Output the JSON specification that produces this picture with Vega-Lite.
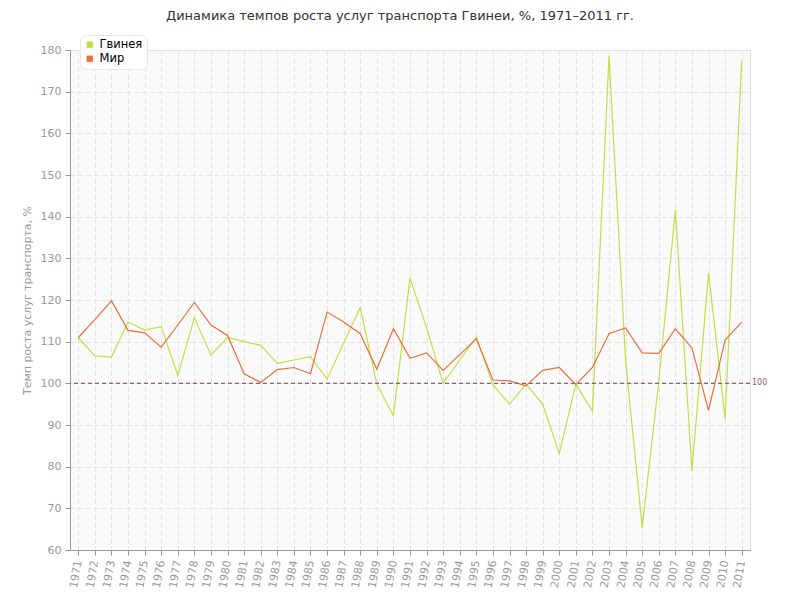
{
  "$schema": "https://vega.github.io/schema/vega-lite/v6.json",
  "width": 680,
  "height": 500,
  "autosize": {"type": "none"},
  "padding": {"left": 70, "top": 50, "right": 50, "bottom": 50},
  "background": "white",
  "title": {"text": "Динамика темпов роста услуг транспорта Гвинеи, %, 1971–2011 гг.", "anchor": "middle", "frame": "group", "dx": -10, "offset": 12, "fontSize": 13, "font": "DejaVu Sans", "fontWeight": "normal", "color": "#333"},
  "config": {"view": {"fill": "#fafafa", "stroke": "#dddddd"}, "font": "DejaVu Sans"},
  "datasets": {
    "series": [
      {"year": 1971, "series": "Гвинея", "value": 111},
      {"year": 1972, "series": "Гвинея", "value": 106.6},
      {"year": 1973, "series": "Гвинея", "value": 106.3},
      {"year": 1974, "series": "Гвинея", "value": 114.7},
      {"year": 1975, "series": "Гвинея", "value": 112.8},
      {"year": 1976, "series": "Гвинея", "value": 113.6},
      {"year": 1977, "series": "Гвинея", "value": 101.9},
      {"year": 1978, "series": "Гвинея", "value": 115.7},
      {"year": 1979, "series": "Гвинея", "value": 106.8},
      {"year": 1980, "series": "Гвинея", "value": 111},
      {"year": 1981, "series": "Гвинея", "value": 110},
      {"year": 1982, "series": "Гвинея", "value": 109.1},
      {"year": 1983, "series": "Гвинея", "value": 104.8},
      {"year": 1984, "series": "Гвинея", "value": 105.6},
      {"year": 1985, "series": "Гвинея", "value": 106.4},
      {"year": 1986, "series": "Гвинея", "value": 101},
      {"year": 1987, "series": "Гвинея", "value": 109.7},
      {"year": 1988, "series": "Гвинея", "value": 118.2},
      {"year": 1989, "series": "Гвинея", "value": 99.8},
      {"year": 1990, "series": "Гвинея", "value": 92.2},
      {"year": 1991, "series": "Гвинея", "value": 125.3},
      {"year": 1992, "series": "Гвинея", "value": 113.3},
      {"year": 1993, "series": "Гвинея", "value": 100},
      {"year": 1994, "series": "Гвинея", "value": 105.6},
      {"year": 1995, "series": "Гвинея", "value": 111.1},
      {"year": 1996, "series": "Гвинея", "value": 99.6},
      {"year": 1997, "series": "Гвинея", "value": 95},
      {"year": 1998, "series": "Гвинея", "value": 99.8},
      {"year": 1999, "series": "Гвинея", "value": 95},
      {"year": 2000, "series": "Гвинея", "value": 83.2},
      {"year": 2001, "series": "Гвинея", "value": 99.8},
      {"year": 2002, "series": "Гвинея", "value": 93.3},
      {"year": 2003, "series": "Гвинея", "value": 178.6},
      {"year": 2004, "series": "Гвинея", "value": 105.4},
      {"year": 2005, "series": "Гвинея", "value": 65.4},
      {"year": 2006, "series": "Гвинея", "value": 100.5},
      {"year": 2007, "series": "Гвинея", "value": 141.6},
      {"year": 2008, "series": "Гвинея", "value": 79},
      {"year": 2009, "series": "Гвинея", "value": 126.5},
      {"year": 2010, "series": "Гвинея", "value": 91.5},
      {"year": 2011, "series": "Гвинея", "value": 177.5},
      {"year": 1971, "series": "Мир", "value": 111},
      {"year": 1972, "series": "Мир", "value": 115.3},
      {"year": 1973, "series": "Мир", "value": 119.8},
      {"year": 1974, "series": "Мир", "value": 112.7},
      {"year": 1975, "series": "Мир", "value": 112.1},
      {"year": 1976, "series": "Мир", "value": 108.7},
      {"year": 1977, "series": "Мир", "value": 114},
      {"year": 1978, "series": "Мир", "value": 119.4},
      {"year": 1979, "series": "Мир", "value": 114},
      {"year": 1980, "series": "Мир", "value": 111.5},
      {"year": 1981, "series": "Мир", "value": 102.3},
      {"year": 1982, "series": "Мир", "value": 100.2},
      {"year": 1983, "series": "Мир", "value": 103.3},
      {"year": 1984, "series": "Мир", "value": 103.8},
      {"year": 1985, "series": "Мир", "value": 102.3},
      {"year": 1986, "series": "Мир", "value": 117.1},
      {"year": 1987, "series": "Мир", "value": 114.7},
      {"year": 1988, "series": "Мир", "value": 111.9},
      {"year": 1989, "series": "Мир", "value": 103.4},
      {"year": 1990, "series": "Мир", "value": 113.1},
      {"year": 1991, "series": "Мир", "value": 106},
      {"year": 1992, "series": "Мир", "value": 107.3},
      {"year": 1993, "series": "Мир", "value": 103.1},
      {"year": 1994, "series": "Мир", "value": 106.9},
      {"year": 1995, "series": "Мир", "value": 110.7},
      {"year": 1996, "series": "Мир", "value": 100.8},
      {"year": 1997, "series": "Мир", "value": 100.6},
      {"year": 1998, "series": "Мир", "value": 99.4},
      {"year": 1999, "series": "Мир", "value": 103.1},
      {"year": 2000, "series": "Мир", "value": 103.8},
      {"year": 2001, "series": "Мир", "value": 99.7},
      {"year": 2002, "series": "Мир", "value": 103.8},
      {"year": 2003, "series": "Мир", "value": 111.9},
      {"year": 2004, "series": "Мир", "value": 113.3},
      {"year": 2005, "series": "Мир", "value": 107.3},
      {"year": 2006, "series": "Мир", "value": 107.2},
      {"year": 2007, "series": "Мир", "value": 113.1},
      {"year": 2008, "series": "Мир", "value": 108.5},
      {"year": 2009, "series": "Мир", "value": 93.5},
      {"year": 2010, "series": "Мир", "value": 110.4},
      {"year": 2011, "series": "Мир", "value": 114.7}
    ],
    "ref": [{"year": 2011.5, "value": 100, "label": "100"}]
  },
  "layer": [
    {
      "data": {"name": "series"},
      "mark": {"type": "line", "strokeWidth": 1.2},
      "encoding": {
        "x": {
          "field": "year", "type": "quantitative",
          "scale": {"domain": [1970.5, 2011.5], "nice": false, "zero": false},
          "axis": {
            "values": [1971,1972,1973,1974,1975,1976,1977,1978,1979,1980,1981,1982,1983,1984,1985,1986,1987,1988,1989,1990,1991,1992,1993,1994,1995,1996,1997,1998,1999,2000,2001,2002,2003,2004,2005,2006,2007,2008,2009,2010,2011],
            "tickCount": 60,
            "format": "d", "title": null,
            "labelAngle": -80, "labelAlign": "right", "labelBaseline": "middle",
            "labelFontSize": 11, "labelColor": "#999999", "labelPadding": 5,
            "labelOverlap": false, "labelFlush": false,
            "tickColor": "#999999", "tickSize": 5, "domainColor": "#999999",
            "gridColor": "#e3e3e3", "gridDash": [5, 3]
          }
        },
        "y": {
          "field": "value", "type": "quantitative",
          "scale": {"domain": [60, 180], "nice": false, "zero": false},
          "axis": {
            "values": [60,70,80,90,100,110,120,130,140,150,160,170,180],
            "tickCount": 20,
            "title": "Темп роста услуг транспорта, %",
            "titleFontWeight": "normal", "titleFontSize": 11, "titleColor": "#999999", "titlePadding": 8,
            "labelFontSize": 11, "labelColor": "#999999", "labelPadding": 4,
            "tickColor": "#999999", "tickSize": 5, "domainColor": "#999999",
            "gridColor": "#e3e3e3", "gridDash": [5, 3]
          }
        },
        "color": {
          "field": "series", "type": "nominal",
          "scale": {"domain": ["Гвинея", "Мир"], "range": ["#c3de45", "#e8703f"]},
          "legend": {
            "orient": "none", "legendX": 10, "legendY": -15, "title": null,
            "fillColor": "white", "strokeColor": "#e6e6e6", "cornerRadius": 6, "padding": 4,
            "symbolType": "square", "symbolSize": 40, "symbolStrokeWidth": 0,
            "labelFontSize": 11.5, "labelColor": "#000000", "rowPadding": 1,
            "encode": {"symbols": {"update": {"fill": {"scale": "color", "field": "value"}}}}
          }
        }
      }
    },
    {
      "data": {"name": "ref"},
      "mark": {"type": "rule", "strokeDash": [4, 3], "color": "#a0566e", "strokeWidth": 1.4},
      "encoding": {"y": {"field": "value", "type": "quantitative"}}
    },
    {
      "data": {"name": "ref"},
      "mark": {"type": "text", "align": "left", "baseline": "middle", "dx": 2, "fontSize": 8, "color": "#a0566e"},
      "encoding": {"x": {"field": "year", "type": "quantitative"}, "y": {"field": "value", "type": "quantitative"}, "text": {"field": "label"}}
    }
  ]
}
